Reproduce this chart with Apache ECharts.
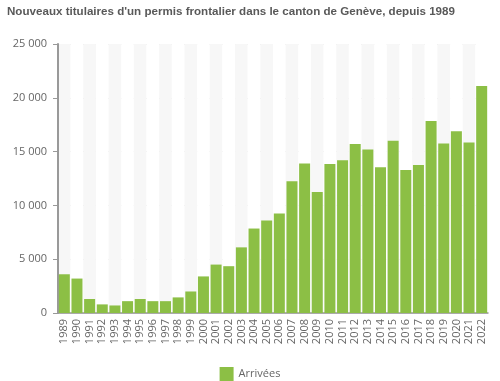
<!DOCTYPE html>
<html><head><meta charset="utf-8">
<script src="https://cdn.jsdelivr.net/npm/echarts@6/dist/echarts.min.js"></script>
<style>html,body{margin:0;padding:0;background:#fff}#c{width:500px;height:381px}</style>
</head><body><div id="c"></div>
<script>
const years = ['1989','1990','1991','1992','1993','1994','1995','1996','1997','1998','1999','2000','2001','2002','2003','2004','2005','2006','2007','2008','2009','2010','2011','2012','2013','2014','2015','2016','2017','2018','2019','2020','2021','2022'];
const arrivees = [3600,3200,1300,800,700,1100,1300,1100,1100,1450,2000,3400,4500,4350,6100,7850,8600,9250,12250,13900,11250,13850,14200,15700,15200,13550,16000,13300,13750,17850,15750,16900,15850,21100];
const yTicks = [0,5000,10000,15000,20000,25000];

const chart = echarts.init(document.getElementById('c'), null, {renderer:'canvas'});
chart.setOption({
  animation:false,
  title:{text:"Nouveaux titulaires d'un permis frontalier dans le canton de Genève, depuis 1989",
    left:7, top:6, padding:0, textStyle:{fontFamily:'Liberation Sans, Arial', fontWeight:'bold', fontSize:11.6, color:'#595959'}},
  grid:{left:58, right:12, top:44, bottom:68},
  legend:{top:367, left:'center', padding:0, itemWidth:14, itemHeight:14, itemGap:6, icon:'rect',
    textStyle:{fontFamily:'Open Sans', fontSize:11, color:'#666'}, data:['Arrivées']},
  xAxis:{type:'category', data:years,
    axisLine:{lineStyle:{color:'#999', width:1.5}},
    axisTick:{alignWithLabel:true, interval:0, length:4, lineStyle:{color:'#999'}},
    axisLabel:{rotate:90, interval:0, margin:6, fontFamily:'Open Sans', fontSize:11, color:'#666'},
    splitArea:{show:true, interval:0, areaStyle:{color:['#f7f7f7','#ffffff']}}},
  yAxis:{type:'value', min:yTicks[0], max:yTicks[yTicks.length-1], interval:5000,
    axisLine:{show:true, lineStyle:{color:'#999', width:2}},
    axisTick:{show:true, length:5, lineStyle:{color:'#999'}},
    axisLabel:{margin:11, fontFamily:'Open Sans', fontSize:11, color:'#666',
      formatter:v=>String(v).replace(/\B(?=(\d{3})+(?!\d))/g,' ')},
    splitLine:{lineStyle:{color:'#dddddd'}}},
  series:[{name:'Arrivées', type:'bar', data:arrivees, barCategoryGap:'13%',
    itemStyle:{color:'#8cbf45'}}]
});
</script></body></html>
